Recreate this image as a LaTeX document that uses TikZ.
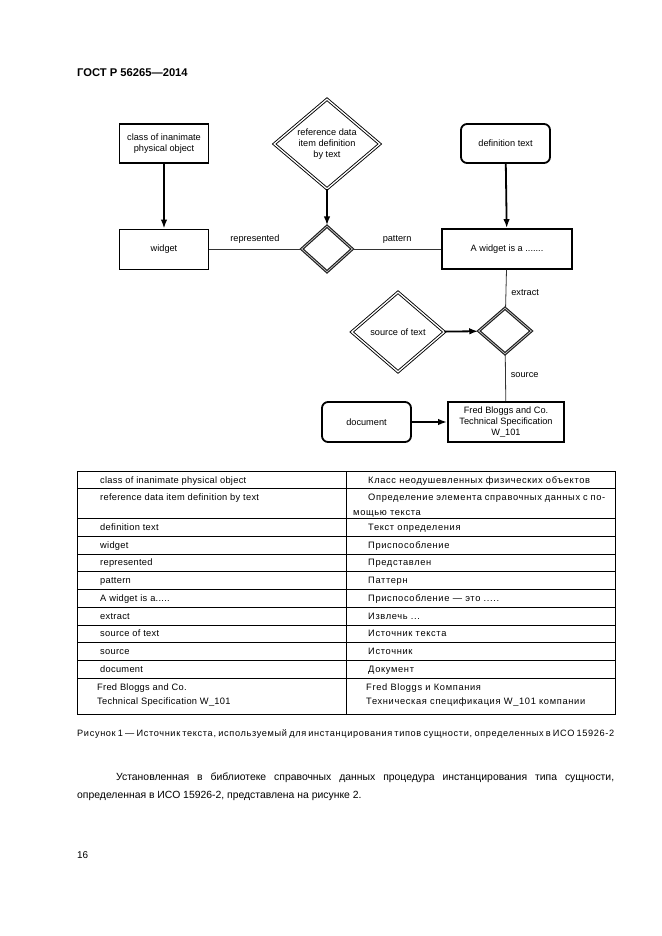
\documentclass[tikz,border=0pt]{standalone}
\usepackage{fontspec}
\setmainfont{Liberation Sans}
\usetikzlibrary{shapes.geometric,arrows.meta}
\tikzset{
  dtext/.style={font=\fontsize{9.2}{11}\selectfont, inner sep=0pt, align=center},
  thickbox/.style={dtext, draw, line width=1.8pt, minimum width=89pt, minimum height=39pt},
  thinbox/.style={dtext, draw, line width=0.8pt, minimum width=89pt, minimum height=40pt},
  roundbox/.style={thickbox, rounded corners=6pt},
  dbldia/.style={dtext, diamond, draw, line width=0.9pt, double, double distance=1.3pt, aspect=1.18},
  smalldia/.style={diamond, draw=black!90, line width=1.1pt, double=black!25, double distance=0.8pt, inner sep=0pt},
  arr/.style={-{Latex[length=9pt,width=6.5pt]}, line width=1.8pt},
  plainline/.style={line width=0.8pt, draw=black!80},
  lbl/.style={font=\fontsize{9.2}{11}\selectfont, inner sep=0pt},
  ttext/.style={font=\fontsize{9.3}{11}\selectfont\addfontfeature{LetterSpace=3}, inner sep=0pt, anchor=base west},
  rtext/.style={font=\fontsize{9.3}{11}\selectfont\addfontfeature{LetterSpace=7}, inner sep=0pt, anchor=base west},
  ptext/.style={font=\fontsize{10.4}{13}\selectfont, inner sep=0pt, anchor=base west},
  tline/.style={line width=0.7pt}
}
\begin{document}
\begin{tikzpicture}[x=1pt,y=-1pt]
\useasboundingbox (0,0) rectangle (661,936);
% header
\node[font=\fontsize{11.2}{13}\selectfont\bfseries, inner sep=0pt, anchor=base west] (hdr) at (77,77) {ГОСТ Р 56265—2014};

% diagram nodes
\node[thickbox] (cls) at (164,143.5) {class of inanimate\\physical object};
\node[thinbox] (wid) at (164,249) {widget};
\node[dbldia, minimum width=106pt, minimum height=90pt] (rdi) at (327,144) {reference data\\item definition\\by text};
\node[smalldia, minimum width=51pt, minimum height=46pt] (d1) at (327,249) {};
\node[roundbox] (def) at (505.5,143.5) {definition text};
\node[thickbox, minimum width=130pt, minimum height=40pt] (awi) at (507,249) {A widget is a .......};
\node[smalldia, minimum width=53pt, minimum height=46pt] (d2) at (505,331) {};
\node[dbldia, minimum width=93pt, minimum height=80pt] (sot) at (398,332) {source of text};
\node[roundbox, minimum height=40pt] (doc) at (366.5,422) {document};
\node[thickbox, minimum width=116pt, minimum height=40pt] (fred) at (506,422) {Fred Bloggs and Co.\\Technical Specification\\W\_101};

% connectors
\draw[arr] (cls) -- (wid);
\draw[arr] (rdi) -- (d1);
\draw[arr] (def) -- (awi);
\draw[arr] (sot) -- (d2);
\draw[arr] (doc) -- (fred);
\draw[plainline] (wid) -- node[lbl, above=5pt] (lrep) {represented} (d1);
\draw[plainline] (d1) -- node[lbl, above=5pt] (lpat) {pattern} (awi);
\draw[plainline] (awi) -- node[lbl, right=5pt, pos=0.6] (lext) {extract} (d2);
\draw[plainline] (d2) -- node[lbl, right=5pt, pos=0.45] (lsrc) {source} (fred);

% table
\draw[tline] (77,471) rectangle (615,714);
\draw[tline] (346,471) -- (346,714);
\foreach \yy in {488.7,518.7,536.4,554.1,571.8,589.5,607.2,624.9,642.6,660.3,678}
  \draw[tline] (77,\yy) -- (615,\yy);

\node[ttext] (l1) at (100,483.3) {class of inanimate physical object};
\node[ttext] (l2) at (100,500.5) {reference data item definition by text};
\node[ttext] (l3) at (100,530.5) {definition text};
\node[ttext] (l4) at (100,548.2) {widget};
\node[ttext] (l5) at (100,565.9) {represented};
\node[ttext] (l6) at (100,583.6) {pattern};
\node[ttext] (l7) at (100,601.3) {A widget is a.....};
\node[ttext] (l8) at (100,619) {extract};
\node[ttext] (l9) at (100,636.7) {source of text};
\node[ttext] (l10) at (100,654.4) {source};
\node[ttext] (l11) at (100,672.1) {document};
\node[ttext] (l12) at (97,690.5) {Fred Bloggs and Co.};
\node[ttext] (l12b) at (97,704) {Technical Specification W\_101};

\node[rtext] (r1) at (368,483.3) {Класс неодушевленных физических объектов};
\node[rtext] (r2) at (368,500.5) {\makebox[237pt][s]{Определение элемента справочных данных с по-}};
\node[rtext] (r2b) at (353,515) {мощью текста};
\node[rtext] (r3) at (368,530.5) {Текст определения};
\node[rtext] (r4) at (368,548.2) {Приспособление};
\node[rtext] (r5) at (368,565.9) {Представлен};
\node[rtext] (r6) at (368,583.6) {Паттерн};
\node[rtext] (r7) at (368,601.3) {Приспособление — это .....};
\node[rtext] (r8) at (368,619) {Извлечь ...};
\node[rtext] (r9) at (368,636.7) {Источник текста};
\node[rtext] (r10) at (368,654.4) {Источник};
\node[rtext] (r11) at (368,672.1) {Документ};
\node[rtext] (r12) at (366,690.5) {Fred Bloggs и Компания};
\node[rtext] (r12b) at (366,704) {Техническая спецификация W\_101 компании};

% caption
\node[font=\fontsize{9.2}{11}\selectfont\addfontfeature{LetterSpace=7}, inner sep=0pt, anchor=base west] (cap) at (77,736.5) {\makebox[537pt][s]{Рисунок 1 — Источник текста, используемый для инстанцирования типов сущности, определенных в ИСО 15926-2}};

% paragraph
\node[ptext] (p1) at (116,780) {\makebox[498pt][s]{Установленная в библиотеке справочных данных процедура инстанцирования типа сущности,}};
\node[ptext] (p2) at (77,798) {определенная в ИСО 15926-2, представлена на рисунке 2.};

\node[font=\fontsize{9.9}{12}\selectfont, inner sep=0pt, anchor=base west] (pg) at (77,858) {16};
\end{tikzpicture}
\end{document}
